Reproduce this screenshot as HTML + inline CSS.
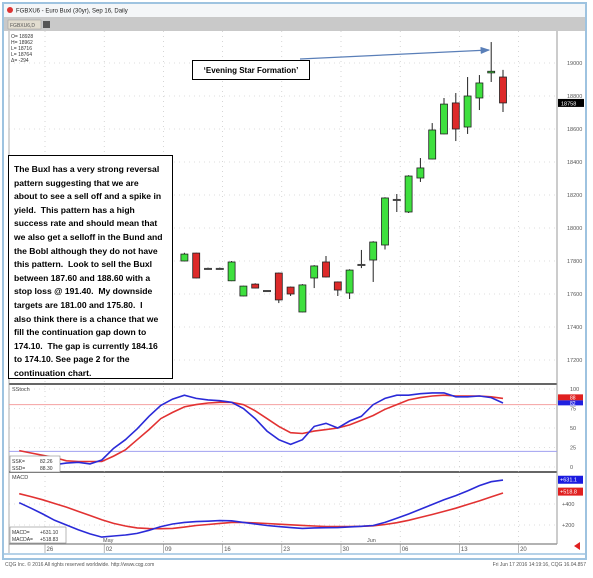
<!DOCTYPE html>
<html><head><meta charset="utf-8"><style>
html,body{margin:0;padding:0;background:#fff;width:593px;height:578px;overflow:hidden;font-family:"Liberation Sans",sans-serif}
#note{position:absolute;left:8px;top:155px;width:165px;height:224px;border:1.5px solid #000;background:#fff;font-weight:bold;font-size:8.6px;line-height:13.6px;padding:7px 0 0 5px;box-sizing:border-box;white-space:nowrap;color:#000;overflow:hidden}
#star{position:absolute;left:192px;top:60px;width:118px;height:20px;border:1px solid #000;background:#fff;font-weight:bold;font-size:8px;line-height:19px;text-align:center;box-sizing:border-box}
</style></head><body>
<svg id="chart" width="593" height="578" style="position:absolute;left:0;top:0" font-family="Liberation Sans, sans-serif"></svg>
<div id="note">The Buxl has a very strong reversal<br>pattern suggesting that we are<br>about to see a sell off and a spike in<br>yield.&nbsp; This pattern has a high<br>success rate and should mean that<br>we also get a selloff in the Bund and<br>the Bobl although they do not have<br>this pattern.&nbsp; Look to sell the Buxl<br>between 187.60 and 188.60 with a<br>stop loss @ 191.40.&nbsp; My downside<br>targets are 181.00 and 175.80.&nbsp; I<br>also think there is a chance that we<br>fill the continuation gap down to<br>174.10.&nbsp; The gap is currently 184.16<br>to 174.10. See page 2 for the<br>continuation chart.</div>
<div id="star">‘Evening Star Formation’</div>
<script>
const opens  =[17800,17848,17752,17752,17680,17588,17660,17618,17727,17642,17491,17697,17794,17673,17606,17776,17806,17897,18170,18097,18303,18418,18570,18758,18612,18788,18940,18915];
const highs  =[17850,17850,17760,17760,17800,17650,17665,17622,17730,17645,17660,17775,17830,17676,17750,17867,17920,18186,18206,18320,18424,18636,18788,18818,18915,18927,19127,18958];
const lows   =[17798,17695,17748,17748,17678,17586,17634,17614,17545,17588,17489,17636,17700,17588,17570,17757,17673,17870,18097,18091,18279,18416,18568,18527,18570,18715,18885,18703];
const closes =[17842,17697,17752,17752,17794,17648,17636,17618,17564,17600,17655,17770,17703,17624,17745,17776,17915,18182,18170,18315,18364,18594,18751,18600,18800,18879,18950,18758];
const priceTicks=[19000,18800,18600,18400,18200,18000,17800,17600,17400,17200];
const stochK=[4,4,4,3,5,6,4,9,24,35,49,65,79,87,92,88,86,85,83,75,62,46,35,29,35,52,56,50,59,65,80,88,92,92,94,95,95,90,90,91,89,82];
const stochD=[21,18,15,12,8,7,7,7,14,22,35,48,62,70,77,80,82,83,83,80,72,62,52,44,43,46,48,50,54,60,66,74,80,86,89,91,92,91,91,91,90,88];
const stochTicks=[100,75,50,25,0];
const macdLine=[412,360,305,245,200,155,115,85,95,105,120,150,185,210,225,232,236,242,240,225,210,195,185,175,168,172,174,175,182,188,195,225,265,305,350,395,440,480,525,575,612,628];
const macdSignal=[498,470,440,405,370,330,290,250,215,190,172,166,165,168,180,195,205,215,225,225,220,214,208,202,196,190,186,185,186,188,192,205,222,245,272,300,330,360,395,430,468,505];
const macdTicks=[400,200];
const dateLabels=["26","02","09","16","23","30","06","13","20"];

const NS="http://www.w3.org/2000/svg";
const svg=document.getElementById('chart');
function mk(tag,at,parent){const e=document.createElementNS(NS,tag);for(const k in at)e.setAttribute(k,at[k]);(parent||svg).appendChild(e);return e;}
function tx(str,x,y,size,fill,anchor){const t=mk('text',{x:x,y:y,'font-size':size,fill:fill||'#333','text-anchor':anchor||'start'});t.textContent=str;return t;}

const plotL=9,plotR=557;
const N=stochK.length;
const xIdx=i=>503-(N-1-i)*11.8;
const xCandle=i=>xIdx(i+(N-opens.length));
const yPrice=p=>63+(19000-p)*0.165;
const yStoch=v=>467-v*0.78;
const yMacd=v=>546-v*0.105;
const xDate=i=>45+i*59.2;

let e;
e=mk('rect',{x:3,y:3,width:583,height:556,fill:'#fff',stroke:'#9ec3e0','stroke-width':2});

e=mk('rect',{x:4,y:4,width:581,height:13,fill:'#f4f6f8'});

e=mk('circle',{cx:10,cy:10,r:3,fill:'#d33'});

e=tx('FGBXU6 - Euro Buxl (30yr), Sep 16, Daily',16,12.5,6,'#222');

e=mk('rect',{x:4,y:17,width:581,height:14,fill:'#c9c9c9'});

e=mk('rect',{x:8,y:20,width:33,height:9,fill:'#e2ddd0',stroke:'#999','stroke-width':0.5});

tx('FGBXU6,D',10,27,5,'#555');
e=mk('rect',{x:43,y:21,width:7,height:7,fill:'#555'});


mk('line',{x1:plotL,y1:384,x2:plotR,y2:384,stroke:'#333','stroke-width':1.5});
mk('line',{x1:plotL,y1:472,x2:plotR,y2:472,stroke:'#333','stroke-width':1.5});
mk('line',{x1:plotL,y1:544,x2:plotR,y2:544,stroke:'#666','stroke-width':1});
mk('line',{x1:plotR,y1:31,x2:plotR,y2:544,stroke:'#999','stroke-width':1});
mk('line',{x1:plotL,y1:31,x2:plotL,y2:553,stroke:'#999','stroke-width':0.8});
mk('line',{x1:4,y1:554,x2:585,y2:554,stroke:'#9ec3e0','stroke-width':1.5});

const grid=mk('g',{stroke:'#bbb','stroke-width':0.6,'stroke-dasharray':'1,4'});

dateLabels.forEach((d,i)=>{const x=xDate(i);mk('line',{x1:x,y1:31,x2:x,y2:544},grid);
 e=mk('line',{x1:x,y1:544,x2:x,y2:553,stroke:'#888','stroke-width':0.6});
 e=tx(d,x+1.5,551,6,'#555');});
priceTicks.forEach(p=>{const y=yPrice(p);mk('line',{x1:plotL,y1:y,x2:plotR,y2:y},grid);
 e=tx(String(p),567,y+2,5.5,'#555');});
stochTicks.forEach(v=>{const y=yStoch(v);mk('line',{x1:plotL,y1:y,x2:plotR,y2:y},grid);
 e=tx(String(v),570,y+2,5.5,'#555');});
macdTicks.forEach(v=>{const y=yMacd(v);mk('line',{x1:plotL,y1:y,x2:plotR,y2:y},grid);
 e=tx('+'+v,562,y+2,5.5,'#555');});
tx('May',103,542,5.5,'#555');tx('Jun',367,542,5.5,'#555');

['O= 18928','H= 18962','L= 18716','L= 18764','Δ=  -294'].forEach((s,i)=>{e=tx(s,11,38+i*6,5,'#333');});

const cg=mk('g',{});
opens.forEach((o,i)=>{const x=xCandle(i),c=closes[i];
 mk('line',{x1:x,y1:yPrice(highs[i]),x2:x,y2:yPrice(lows[i]),stroke:'#222','stroke-width':1},cg);
 const top=yPrice(Math.max(o,c)),bot=yPrice(Math.min(o,c));
 let r;
 if(bot-top<1.5){r=mk('rect',{x:x-4,y:top-1,width:8,height:2,fill:c>o?'#44dd44':(c<o?'#e03030':'#444')},cg);}
 else r=mk('rect',{x:x-3.5,y:top,width:7,height:bot-top,fill:c>o?'#3ee03e':'#dd2a2a',stroke:'#222','stroke-width':0.8},cg);
 });

e=mk('rect',{x:558,y:yPrice(closes[closes.length-1])-4,width:26,height:8,fill:'#000'});

tx(String(closes[closes.length-1]),561,yPrice(closes[closes.length-1])+2.5,5.5,'#fff');

mk('defs',{}).innerHTML='<marker id="ah" markerWidth="8" markerHeight="6" refX="7" refY="3" orient="auto"><path d="M0,0 L8,3 L0,6 z" fill="#5a7fb8"/></marker>';
e=mk('line',{x1:300,y1:59,x2:489,y2:50,stroke:'#5a7fb8','stroke-width':1.2,'marker-end':'url(#ah)'});


mk('line',{x1:plotL,y1:yStoch(80),x2:plotR,y2:yStoch(80),stroke:'#f4a0a0','stroke-width':1});
mk('line',{x1:plotL,y1:yStoch(20),x2:plotR,y2:yStoch(20),stroke:'#a0a0f0','stroke-width':1});
tx('SStoch',12,391,5.5,'#444');
function poly(arr,yf,col,name){const pts=arr.map((v,i)=>xIdx(i).toFixed(1)+','+yf(v).toFixed(1)).join(' ');
 const p=mk('polyline',{points:pts,fill:'none',stroke:col,'stroke-width':1.6});}
poly(stochD,yStoch,'#e23232','stoch-d-line');
poly(stochK,yStoch,'#2a2ad8','stoch-k-line');
e=mk('rect',{x:10,y:456,width:50,height:16,fill:'#fff',stroke:'#888','stroke-width':0.6});

tx('SSK=',12,463,5,'#333');tx('82.26',40,463,5,'#333');tx('SSD=',12,470,5,'#333');tx('88.30',40,470,5,'#333');
e=mk('rect',{x:558,y:yStoch(88)-4,width:25,height:6,fill:'#e02020'});tx('88',570,yStoch(88)+1,5,'#fff');
e=mk('rect',{x:558,y:yStoch(88)+2,width:25,height:5,fill:'#2020e0'});tx('82',570,yStoch(88)+6.5,5,'#fff');

tx('MACD',12,479,5.5,'#444');
poly(macdSignal,yMacd,'#e23232','macd-signal-line');
poly(macdLine,yMacd,'#2a2ad8','macd-line');
e=mk('rect',{x:10,y:527,width:56,height:16,fill:'#fff',stroke:'#888','stroke-width':0.6});

tx('MACD=',12,534,5,'#333');tx('+631.10',40,534,5,'#333');tx('MACDA=',12,541,5,'#333');tx('+518.83',40,541,5,'#333');
mk('rect',{x:558,y:yMacd(631)-4,width:25,height:8,fill:'#1a1ae0'});tx('+631.1',560,yMacd(631)+2,5.5,'#fff');
mk('rect',{x:558,y:yMacd(518)-4,width:25,height:8,fill:'#e02020'});tx('+518.8',560,yMacd(518)+2,5.5,'#fff');

e=mk('path',{d:'M574,546 L580,542 L580,550 z',fill:'#e02020'});

e=tx('CQG Inc. © 2016 All rights reserved worldwide. http://www.cqg.com',5,566,5,'#555');

e=tx('Fri Jun 17 2016 14:19:16, CQG 16.04.857',586,566,5,'#555','end');

</script>
</body></html>
